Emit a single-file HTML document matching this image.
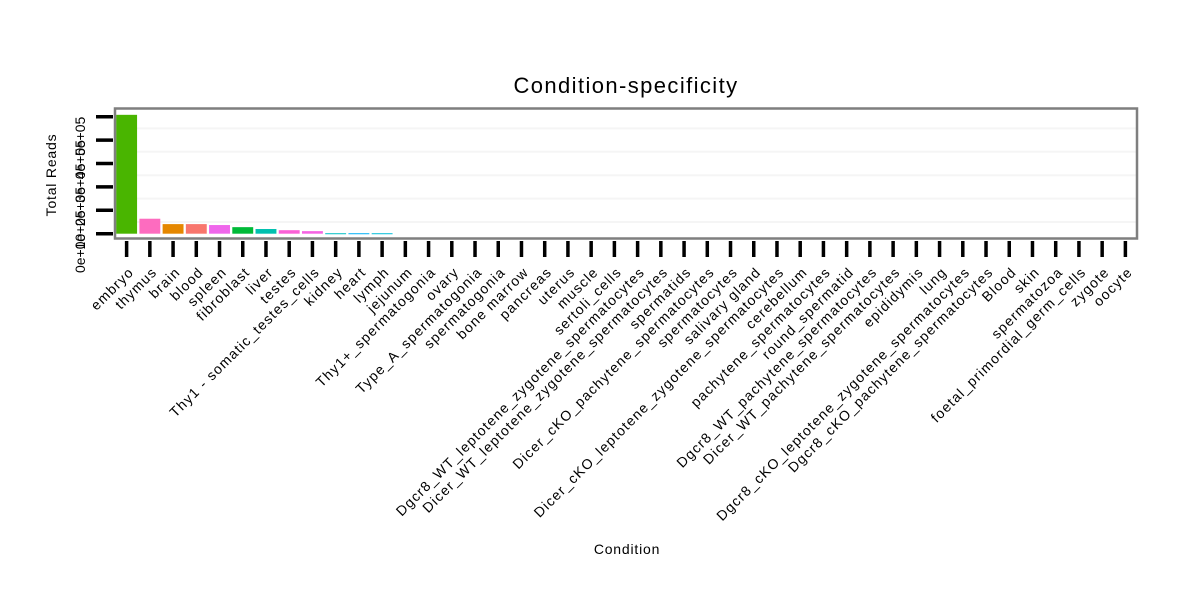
<!DOCTYPE html>
<html><head><meta charset="utf-8"><style>
body{margin:0;background:#fff;font-family:"Liberation Sans",sans-serif}
</style></head><body>
<svg id="c" width="1200" height="600" xmlns="http://www.w3.org/2000/svg" font-family="Liberation Sans, sans-serif">
<rect width="1200" height="600" fill="#fff"/>
<text x="626" y="93" font-size="22" letter-spacing="1.4" text-anchor="middle">Condition-specificity</text>
<text x="627" y="554" font-size="14" letter-spacing="0.8" text-anchor="middle">Condition</text>
<text transform="translate(56,175) rotate(-90)" font-size="14" letter-spacing="0.8" text-anchor="middle">Total Reads</text>
<g id="grid"></g><g id="bars"></g><g id="axes"></g>
<rect x="115" y="108.5" width="1022" height="130" fill="none" stroke="#7f7f7f" stroke-width="2.5"/>
</svg>
<script>
const categories=["embryo","thymus","brain","blood","spleen","fibroblast","liver","testes","Thy1 - somatic_testes_cells","kidney","heart","lymph","jejunum","Thy1+_spermatogonia","ovary","Type_A_spermatogonia","spermatogonia","bone marrow","pancreas","uterus","muscle","sertoli_cells","Dgcr8_WT_leptotene_zygotene_spermatocytes","Dicer_WT_leptotene_zygotene_spermatocytes","spermatids","Dicer_cKO_pachytene_spermatocytes","spermatocytes","salivary gland","Dicer_cKO_leptotene_zygotene_spermatocytes","cerebellum","pachytene_spermatocytes","round_spermatid","Dgcr8_WT_pachytene_spermatocytes","Dicer_WT_pachytene_spermatocytes","epididymis","lung","Dgcr8_cKO_leptotene_zygotene_spermatocytes","Dgcr8_cKO_pachytene_spermatocytes","Blood","skin","spermatozoa","foetal_primordial_germ_cells","zygote","oocyte"];
const values=[508000,64000,41000,41000,37000,28000,20000,15000,11000,2000,2000,2000,0,0,0,0,0,0,0,0,0,0,0,0,0,0,0,0,0,0,0,0,0,0,0,0,0,0,0,0,0,0,0,0];
const colors=["#49b500","#fd6cbf","#e58700","#f8766d","#ef67eb","#00ba38","#00c0af","#fb61d7","#f564e3","#00bfc4","#00b0f6","#00bcd8"];
const yTicks=[0,100000,200000,300000,400000,500000];
const yTickLabels=["0e+00","1e+05","2e+05","3e+05","4e+05","5e+05"];
const NS="http://www.w3.org/2000/svg";
const x0=115,bw=1022/categories.length;
const xc=i=>x0+bw*(i+0.5);
const y=v=>233.7-v*23.4/100000;
function mk(t,a,p){const e=document.createElementNS(NS,t);for(const k in a)e.setAttribute(k,a[k]);p.appendChild(e);return e;}
const grid=document.getElementById('grid'),bars=document.getElementById('bars'),axes=document.getElementById('axes');
for(let i=0;i<yTicks.length-1;i++){const gy=y((yTicks[i]+yTicks[i+1])/2);
const g=mk('line',{x1:116,x2:1136,y1:gy,y2:gy,stroke:'#f5f5f5','stroke-width':2},grid);

}
categories.forEach((c,i)=>{
 const v=values[i];
 if(v>0){const b=mk('rect',{x:xc(i)-bw*0.45,y:y(v),width:bw*0.9,height:Math.max(233.7-y(v),1),fill:colors[i%colors.length]},bars);
 
 }
 const t=mk('line',{x1:xc(i),x2:xc(i),y1:241,y2:257,stroke:'#000','stroke-width':3.5},axes);
 
 
 const l=mk('text',{transform:`translate(${xc(i)+8},${273}) rotate(-45)`,'font-size':14,'letter-spacing':1.2,'text-anchor':'end'},axes);
 l.textContent=c;
 
 
});
yTicks.forEach((v,i)=>{
 const t=mk('line',{x1:96,x2:113,y1:y(v),y2:y(v),stroke:'#000','stroke-width':3.5},axes);
 
 
 const l=mk('text',{transform:`translate(85,${y(v)}) rotate(-90)`,'font-size':14,'text-anchor':'end'},axes);
 l.textContent=yTickLabels[i];
 
 
});
</script>
</body></html>
